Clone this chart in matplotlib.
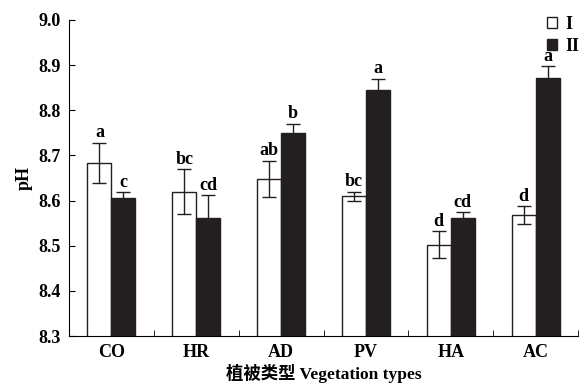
import matplotlib.pyplot as plt
import numpy as np
from matplotlib.patches import Patch

# vegetation types
types = ['CO', 'HR', 'AD', 'PV', 'HA', 'AC']
# pH values, layer I and layer II
ph_1 = [8.683, 8.620, 8.648, 8.610, 8.502, 8.568]
ph_2 = [8.606, 8.562, 8.750, 8.845, 8.562, 8.872]
err_1 = [0.045, 0.050, 0.040, 0.010, 0.030, 0.020]
err_2 = [0.012, 0.050, 0.020, 0.025, 0.012, 0.025]
# significance letters
sig_1 = ['a', 'bc', 'ab', 'bc', 'd', 'd']
sig_2 = ['c', 'cd', 'b', 'a', 'cd', 'a']

serif = ['Liberation Serif', 'DejaVu Serif']
plt.rcParams['font.family'] = serif
plt.rcParams['font.weight'] = 'bold'

fig = plt.figure(figsize=(5.85, 3.89), dpi=100)
ax = fig.add_axes([0.118, 0.136, 0.870, 0.813])

x = np.arange(len(types))
w = 0.283
ax.bar(x - w / 2, ph_1, w, color='white', edgecolor='#231f20', linewidth=1)
ax.bar(x + w / 2, ph_2, w, color='#231f20', edgecolor='#231f20', linewidth=1)
ax.errorbar(x - w / 2, ph_1, yerr=err_1, fmt='none', ecolor='#231f20', elinewidth=1, capsize=5, capthick=1)
ax.errorbar(x + w / 2, ph_2, yerr=err_2, fmt='none', ecolor='#231f20', elinewidth=1, capsize=5, capthick=1)

for i in range(len(types)):
    ax.text(x[i] - w / 2, ph_1[i] + err_1[i] + 0.003, sig_1[i], ha='center', va='bottom',
            fontsize=13, fontweight='bold')
    ax.text(x[i] + w / 2, ph_2[i] + err_2[i] + 0.003, sig_2[i], ha='center', va='bottom',
            fontsize=13, fontweight='bold')

ax.set_ylim(8.3, 9.0)
ax.set_xlim(-0.5, 5.5)
ax.set_yticks(np.arange(8.3, 9.01, 0.1))
ax.set_yticklabels(['%.1f' % v for v in np.arange(8.3, 9.01, 0.1)], fontsize=13, fontweight='bold')
ax.set_xticks(x)
ax.set_xticklabels(types, fontsize=13, fontweight='bold')
ax.set_xticks(np.arange(0.5, 5.6, 1), minor=True)
ax.tick_params(axis='x', which='major', length=0, pad=6)
ax.tick_params(axis='x', which='minor', direction='in', length=4)
ax.tick_params(axis='y', direction='in', length=4, pad=6)
ax.spines['top'].set_visible(False)
ax.spines['right'].set_visible(False)

ax.set_ylabel('pH', fontsize=13, fontweight='bold', labelpad=4)
ax.set_xlabel('植被类型 Vegetation types', fontsize=12.5, fontweight='bold',
              family=['Liberation Serif', 'Noto Sans CJK SC'], labelpad=2)

handles = [Patch(facecolor='white', edgecolor='#231f20'), Patch(facecolor='#231f20', edgecolor='#231f20')]
ax.legend(handles, ['I', 'II'], loc='upper right', bbox_to_anchor=(1.035, 1.065), frameon=False,
          handlelength=0.55, handleheight=0.55, handletextpad=0.5, labelspacing=0.3,
          prop={'size': 13, 'weight': 'bold'})

fig.savefig('out.png', dpi=100)
